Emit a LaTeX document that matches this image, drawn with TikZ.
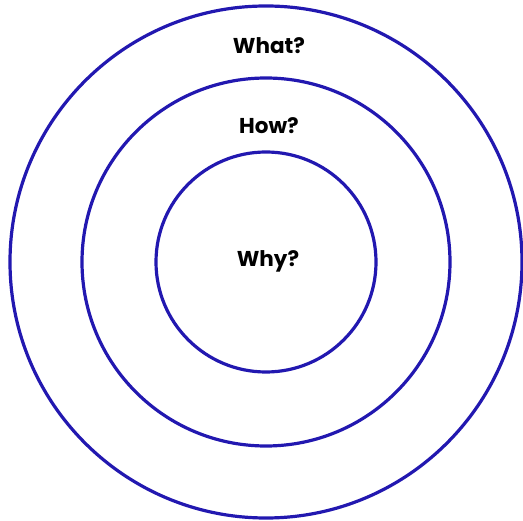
\documentclass[tikz,border=0pt]{standalone}
\usepackage{fontspec}
\setmainfont{Poppins}
\definecolor{ringblue}{RGB}{34,24,176}
\begin{document}
\begin{tikzpicture}[x=1pt, y=1pt,
  ring/.style={draw=ringblue, line width=3.2pt, circle, inner sep=0pt},
  lbl/.style={font=\fontsize{21.5}{24}\selectfont\bfseries, text=black}]
  \useasboundingbox (0,0) rectangle (523,-521);
  \coordinate (c) at (266,-262);
  % rings, outer to inner
  \node[ring, minimum size=512pt] (outer) at (c) {};
  \node[ring, minimum size=368pt] (middle) at (c) {};
  \node[ring, minimum size=220pt] (inner) at (c) {};
  % labels
  \node[lbl] (what) at (269,-46) {What?};
  \node[lbl] (how) at (269,-126) {How?};
  \node[lbl] (why) at (268,-261) {Why?};
\end{tikzpicture}
\end{document}
